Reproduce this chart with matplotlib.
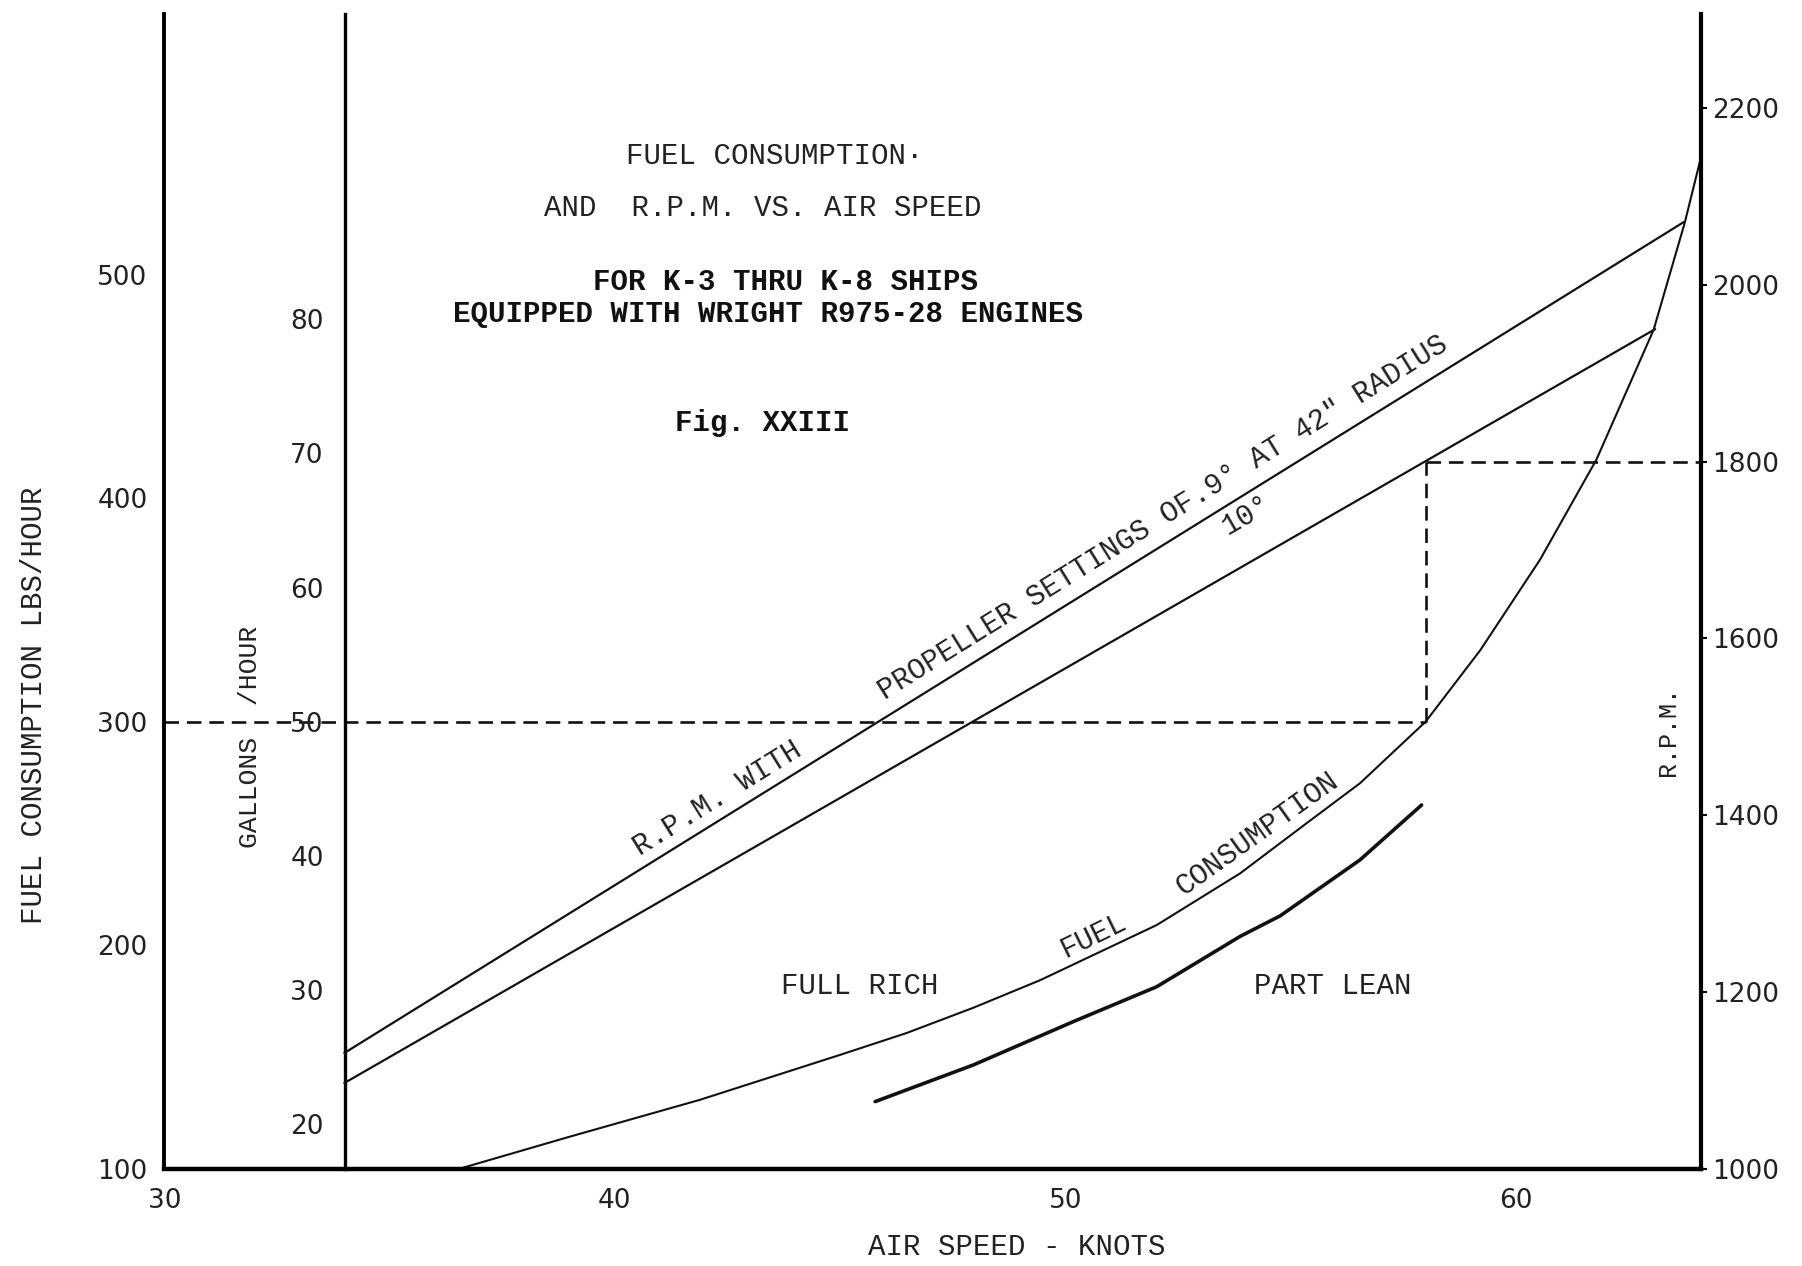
import matplotlib.pyplot as plt

# values
knot_ticks = [30, 40, 50, 60]
lbs_ticks = [100, 200, 300, 400, 500]
gal_ticks = [20, 30, 40, 50, 60, 70, 80]
rpm_ticks = [1000, 1200, 1400, 1600, 1800, 2000, 2200]

# R.P.M. with propeller setting 9 deg and 10 deg (straight lines)
rpm9_knots = [34.0, 63.72]
rpm9 = [1131, 2071]
rpm10_knots = [34.0, 63.09]
rpm10 = [1097, 1950]

# fuel consumption, full rich (thin) and part lean (heavy)
rich_knots = [36.56, 38.93, 41.89, 45.0, 46.48, 47.96, 49.44, 52.03, 53.88,
              55.36, 56.54, 58.0, 59.21, 60.54, 61.79, 63.06, 63.75, 64.11]
rich_lbs = [100, 113.9, 130.8, 150.9, 160.7, 172.0, 184.3, 209.0, 232.1,
            254.6, 272.4, 300, 331.9, 372.5, 417.2, 475.3, 523.1, 552.4]
lean_knots = [45.78, 47.96, 50.18, 52.03, 53.88, 54.77, 56.54, 57.91]
lean_lbs = [130.0, 146.4, 165.8, 181.4, 203.9, 213.1, 238.1, 262.7]

# cruise reference point
ref_knots, ref_lbs, ref_rpm = 58, 300, 1800

TW = 'Liberation Mono'
INK = '#111111'
GREY = '#222222'

fig = plt.figure(figsize=(18.02, 12.66), dpi=100)
ax = fig.add_axes([0.0912, 0.0769, 0.8527, 0.9122])
ax.set_xlim(30, 64.11)
ax.set_ylim(100, 616.7)
for s in ['top', 'right']:
    ax.spines[s].set_visible(False)
ax.spines['left'].set_linewidth(2.8)
ax.spines['bottom'].set_linewidth(3.2)
ax.set_xticks(knot_ticks)
ax.set_yticks(lbs_ticks)
ax.tick_params(length=0, labelsize=19, labelcolor=GREY)
ax.tick_params(axis='x', pad=14)
ax.tick_params(axis='y', pad=12)

# gallons/hour scale on an inner spine at 34 knots
axg = ax.twinx()
axg.set_ylim(100 / 6, 616.7 / 6)
for s in ['top', 'right', 'bottom']:
    axg.spines[s].set_visible(False)
axg.spines['left'].set_visible(True)
axg.spines['left'].set_position(('data', 34))
axg.spines['left'].set_linewidth(2.4)
axg.yaxis.set_ticks_position('left')
axg.set_yticks(gal_ticks)
axg.tick_params(length=0, pad=15, labelsize=19, labelcolor=GREY)

# R.P.M. scale on the right
axr = ax.twinx()
axr.set_ylim(1000, 2307)
for s in ['top', 'left', 'bottom']:
    axr.spines[s].set_visible(False)
axr.spines['right'].set_linewidth(3.0)
axr.set_yticks(rpm_ticks)
axr.tick_params(length=4, width=1.5, pad=4, labelsize=19, labelcolor=GREY)

# curves
ax.plot(rich_knots, rich_lbs, color=INK, lw=1.5)
ax.plot(lean_knots, lean_lbs, color=INK, lw=2.6, solid_capstyle='round')
axr.plot(rpm9_knots, rpm9, color=INK, lw=1.6)
axr.plot(rpm10_knots, rpm10, color=INK, lw=1.6)

# dashed reference lines
dash = dict(color=INK, lw=1.9, dashes=(5.5, 3))
ax.plot([30, ref_knots], [ref_lbs, ref_lbs], **dash)
pix = axr.transData.transform((ref_knots, ref_rpm))
lbs_at_ref_rpm = ax.transData.inverted().transform(pix)[1]
ax.plot([ref_knots, ref_knots], [ref_lbs, lbs_at_ref_rpm], **dash)
axr.plot([ref_knots, 64.11], [ref_rpm, ref_rpm], **dash)

# titles
ax.text(43.55, 553, 'FUEL CONSUMPTION\u00b7', family=TW, fontsize=21,
        ha='center', va='center', color=GREY)
ax.text(43.29, 530, 'AND  R.P.M. VS. AIR SPEED', family=TW, fontsize=21,
        ha='center', va='center', color=GREY)
ax.text(43.78, 496.5, 'FOR K-3 THRU K-8 SHIPS', family=TW, fontsize=21,
        fontweight='bold', ha='center', va='center', color=INK)
ax.text(43.39, 482.5, 'EQUIPPED WITH WRIGHT R975-28 ENGINES', family=TW,
        fontsize=21, fontweight='bold', ha='center', va='center', color=INK)
ax.text(43.27, 433.7, 'Fig. XXIII', family=TW, fontsize=21,
        fontweight='bold', ha='center', va='center', color=INK)

# curve labels
lab = dict(family=TW, fontsize=21, ha='center', va='center',
           rotation_mode='anchor', color=GREY)
ax.text(42.27, 265.6, 'R.P.M. WITH', rotation=31.9, **lab)
ax.text(52.17, 391.5, 'PROPELLER SETTINGS OF.9\u00b0 AT 42" RADIUS',
        rotation=31.9, **lab)
ax.text(54.03, 392.5, '10\u00b0', rotation=30, **lab)
ax.text(50.62, 204.5, 'FUEL', rotation=26, **lab)
ax.text(54.25, 250.1, 'CONSUMPTION', rotation=35.5, **lab)
ax.text(45.43, 181.7, 'FULL RICH', **lab)
ax.text(55.94, 181.7, 'PART LEAN', **lab)

# axis titles
ax.text(31.91, 293.3, 'GALLONS  /HOUR', rotation=90,
        **{**lab, 'fontsize': 19})
ax.text(63.39, 295.9, 'R.P.M.', rotation=90, **{**lab, 'fontsize': 18})
fig.text(0.0191, 0.4427, 'FUEL CONSUMPTION LBS/HOUR', family=TW, fontsize=21,
         rotation=90, ha='center', va='center', color=GREY)
fig.text(0.5643, 0.0151, 'AIR SPEED - KNOTS', family=TW, fontsize=21,
         ha='center', va='center', color=GREY)

fig.savefig('out.png', dpi=100)
